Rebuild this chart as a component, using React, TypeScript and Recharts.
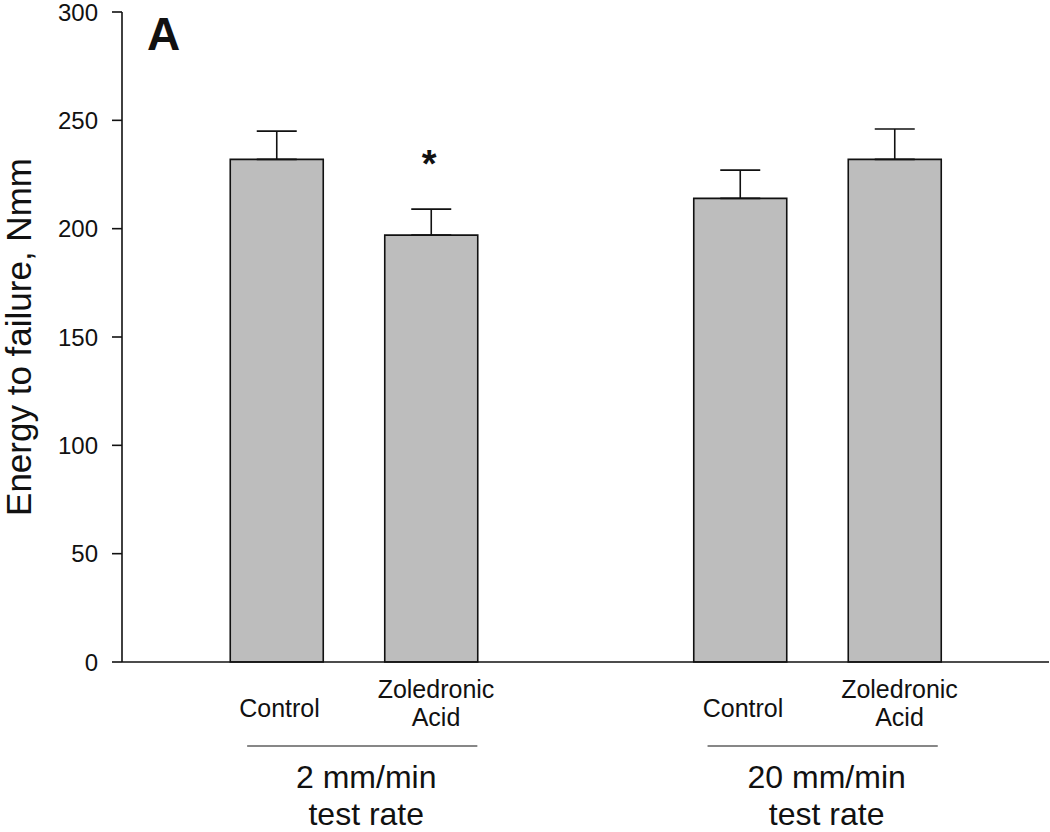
import { BarChart, Bar, XAxis, YAxis, ErrorBar, LabelList } from "recharts";

// bar positions on a 0..6 numeric axis (3 is the gap between the two groups)
const positions = [1, 2, 4, 5];
const treatments = [["Control"], ["Zoledronic", "Acid"], ["Control"], ["Zoledronic", "Acid"]];
const energy = [232, 197, 214, 232];
const sem = [13, 12, 13, 14];
const significance = ["", "*", "", ""];

// test rate groups: first bar position, line start / end on the same axis
const groupLabels = [["2 mm/min", "test rate"], ["20 mm/min", "test rate"]];
const groupFirst = [1, 4];
const groupStart = [0.81, 3.79];
const groupEnd = [2.3, 5.28];

const yTicks = [0, 50, 100, 150, 200, 250, 300];

const W = 1050;
const H = 832;
const Y_AXIS_W = 122;
const RIGHT = 1;
const PX_PER_UNIT = (W - Y_AXIS_W - RIGHT) / 6;
const FONT = "Arial, 'Liberation Sans', sans-serif";

const data = positions.map((p, i) => ({
  pos: p,
  energy: energy[i],
  err: [0, sem[i]],
  sig: significance[i],
}));

const TreatmentTick = ({ x, y, payload }: any) => {
  const i = positions.indexOf(payload.value);
  const lines = treatments[i] || [];
  const g = groupFirst.indexOf(payload.value);
  let group = null;
  if (g >= 0) {
    const x1 = x + (groupStart[g] - payload.value) * PX_PER_UNIT;
    const x2 = x + (groupEnd[g] - payload.value) * PX_PER_UNIT;
    const cx = (x1 + x2) / 2 + 4;
    group = (
      <g>
        <line x1={x1} x2={x2} y1={y + 84} y2={y + 84} stroke="#111" strokeWidth={1.2} />
        {groupLabels[g].map((l, k) => (
          <text key={k} x={cx} y={y + 126 + k * 37} textAnchor="middle" fontSize={32} fontFamily={FONT} fill="#111">
            {l}
          </text>
        ))}
      </g>
    );
  }
  return (
    <g>
      {lines.length === 1 ? (
        <text x={x + 3} y={y + 55} textAnchor="middle" fontSize={25} fontFamily={FONT} fill="#111">
          {lines[0]}
        </text>
      ) : (
        lines.map((l, k) => (
          <text key={k} x={x + 5} y={y + 36 + k * 28} textAnchor="middle" fontSize={25} fontFamily={FONT} fill="#111">
            {l}
          </text>
        ))
      )}
      {group}
    </g>
  );
};

const SigLabel = ({ x, y, width, value }: any) => {
  if (!value) return null;
  return (
    <text x={x + width / 2 - 2} y={y - 58} textAnchor="middle" fontSize={38} fontWeight="bold" fontFamily={FONT} fill="#111">
      {value}
    </text>
  );
};

const YTitle = () => (
  <text transform={`translate(31, 337) rotate(-90)`} textAnchor="middle" fontSize={35} fontFamily={FONT} fill="#111">
    Energy to failure, Nmm
  </text>
);

export default function App() {
  return (
    <div style={{ position: "absolute", left: 0, top: 0, width: W, height: H, background: "#fff" }}>
      <BarChart width={W} height={H} data={data} margin={{ top: 12, right: RIGHT, left: 0, bottom: 0 }}>
        <XAxis
          dataKey="pos"
          type="number"
          domain={[0, 6]}
          allowDataOverflow
          ticks={positions}
          interval={0}
          tickLine={false}
          tickSize={0}
          tickMargin={0}
          height={170}
          axisLine={{ stroke: "#111", strokeWidth: 1.6 }}
          tick={<TreatmentTick />}
        />
        <YAxis
          domain={[0, 300]}
          ticks={yTicks}
          interval={0}
          width={Y_AXIS_W}
          tickSize={10}
          tickMargin={14}
          axisLine={{ stroke: "#111", strokeWidth: 1.6 }}
          tickLine={{ stroke: "#111", strokeWidth: 1.6 }}
          tick={{ fontSize: 24, fontFamily: FONT, fill: "#111" }}
          label={<YTitle />}
        />
        <Bar dataKey="energy" barSize={93} fill="#bdbdbd" stroke="#111" strokeWidth={1.6} isAnimationActive={false}>
          <ErrorBar dataKey="err" width={20} stroke="#111" strokeWidth={1.6} direction="y" />
          <LabelList dataKey="sig" content={<SigLabel />} />
        </Bar>
        <text x={147} y={50} fontSize={46} fontWeight="bold" fontFamily={FONT} fill="#111">
          A
        </text>
      </BarChart>
    </div>
  );
}
